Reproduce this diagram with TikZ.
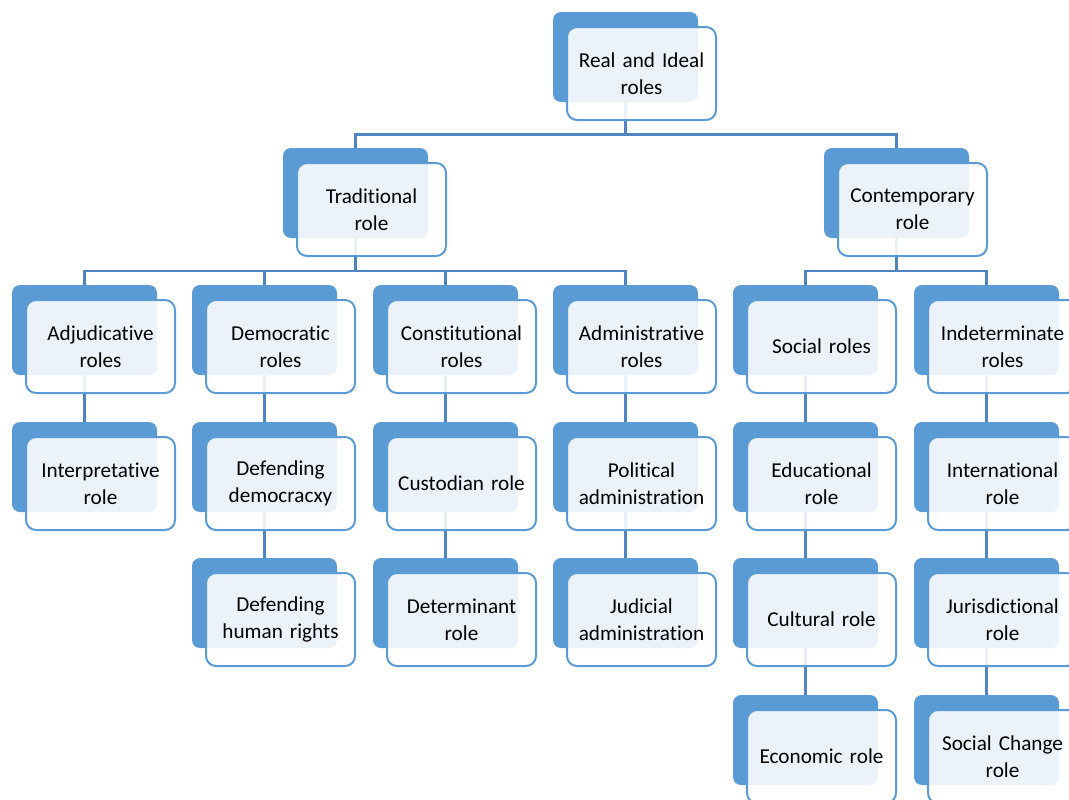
\documentclass[tikz,border=0pt]{standalone}
\usepackage{fontspec}
\setmainfont{Carlito}[Ligatures=NoCommon]
\usepackage{xcolor}
\usepackage{tikz}
\usetikzlibrary{backgrounds, calc}

\definecolor{roleblue}{HTML}{5B9BD5}
\definecolor{linkblue}{HTML}{4E84C0}

\begin{document}
\begin{tikzpicture}[
    x=0.5pt, y=-0.5pt,
    back/.style={rectangle, rounded corners=4pt, fill=roleblue, minimum width=72.5pt, minimum height=45pt, inner sep=0pt},
    front/.style={draw=roleblue, line width=1pt, rectangle, rounded corners=5pt, fill=white, fill opacity=0.88, text opacity=1, minimum width=74.5pt, minimum height=46.5pt, align=center, text width=70pt, inner sep=0pt, font=\fontsize{10.6}{13.5}\selectfont},
    link/.style={draw=linkblue, line width=1.25pt}
]
\useasboundingbox (0,0) rectangle (1069,799);

% top and second level
\node[back] (root-b) at (625.5,57) {};
\node[front] (root) at ([shift={(16,16.5)}]root-b.center) {Real and Ideal\\roles};
\node[back] (trad-b) at (355.5,193) {};
\node[front] (trad) at ([shift={(16,16.5)}]trad-b.center) {Traditional\\role};
\node[back] (cont-b) at (896.5,193) {};
\node[front] (cont) at ([shift={(16,16.5)}]cont-b.center) {Contemporary\\role};

% traditional branch
\node[back] (adj-b) at (84.5,330) {};
\node[front] (adj) at ([shift={(16,16.5)}]adj-b.center) {Adjudicative\\roles};
\node[back] (interp-b) at (84.5,467) {};
\node[front] (interp) at ([shift={(16,16.5)}]interp-b.center) {Interpretative\\role};

\node[back] (demo-b) at (264.5,330) {};
\node[front] (demo) at ([shift={(16,16.5)}]demo-b.center) {Democratic\\roles};
\node[back] (defdem-b) at (264.5,467) {};
\node[front] (defdem) at ([shift={(16,16.5)}]defdem-b.center) {Defending\\democracxy};
\node[back] (defhr-b) at (264.5,603) {};
\node[front] (defhr) at ([shift={(16,16.5)}]defhr-b.center) {Defending\\human rights};

\node[back] (const-b) at (445.5,330) {};
\node[front] (const) at ([shift={(16,16.5)}]const-b.center) {Constitutional\\roles};
\node[back] (cust-b) at (445.5,467) {};
\node[front] (cust) at ([shift={(16,16.5)}]cust-b.center) {Custodian role};
\node[back] (determ-b) at (445.5,603) {};
\node[front] (determ) at ([shift={(16,16.5)}]determ-b.center) {Determinant\\role};

\node[back] (admin-b) at (625.5,330) {};
\node[front] (admin) at ([shift={(16,16.5)}]admin-b.center) {Administrative\\roles};
\node[back] (polit-b) at (625.5,467) {};
\node[front] (polit) at ([shift={(16,16.5)}]polit-b.center) {Political\\administration};
\node[back] (judic-b) at (625.5,603) {};
\node[front] (judic) at ([shift={(16,16.5)}]judic-b.center) {Judicial\\administration};

% contemporary branch
\node[back] (social-b) at (805.5,330) {};
\node[front] (social) at ([shift={(16,16.5)}]social-b.center) {Social roles};
\node[back] (educ-b) at (805.5,467) {};
\node[front] (educ) at ([shift={(16,16.5)}]educ-b.center) {Educational\\role};
\node[back] (cult-b) at (805.5,603) {};
\node[front] (cult) at ([shift={(16,16.5)}]cult-b.center) {Cultural role};
\node[back] (econ-b) at (805.5,740) {};
\node[front] (econ) at ([shift={(16,16.5)}]econ-b.center) {Economic role};

\node[back] (indet-b) at (986.5,330) {};
\node[front] (indet) at ([shift={(16,16.5)}]indet-b.center) {Indeterminate\\roles};
\node[back] (intl-b) at (986.5,467) {};
\node[front] (intl) at ([shift={(16,16.5)}]intl-b.center) {International\\role};
\node[back] (juris-b) at (986.5,603) {};
\node[front] (juris) at ([shift={(16,16.5)}]juris-b.center) {Jurisdictional\\role};
\node[back] (schange-b) at (986.5,740) {};
\node[front] (schange) at ([shift={(16,16.5)}]schange-b.center) {Social Change\\role};

% connectors behind the boxes
\begin{scope}[on background layer]
\coordinate (bus1) at ($(root.south)!0.5!(trad-b.north)$);
\coordinate (bus2) at ($(trad.south)!0.5!(adj-b.north)$);
\draw[link] (root-b.south) -- (root-b.south |- bus1) -| (trad-b.north);
\draw[link] (root-b.south |- bus1) -| (cont-b.north);
\draw[link] (trad-b.south) -- (trad-b.south |- bus2) -| (adj-b.north);
\draw[link] (trad-b.south |- bus2) -| (demo-b.north);
\draw[link] (trad-b.south |- bus2) -| (const-b.north);
\draw[link] (trad-b.south |- bus2) -| (admin-b.north);
\draw[link] (cont-b.south) -- (cont-b.south |- bus2) -| (social-b.north);
\draw[link] (cont-b.south |- bus2) -| (indet-b.north);
\draw[link] (adj-b.south) -- (interp-b.north);
\draw[link] (demo-b.south) -- (defdem-b.north);
\draw[link] (defdem-b.south) -- (defhr-b.north);
\draw[link] (const-b.south) -- (cust-b.north);
\draw[link] (cust-b.south) -- (determ-b.north);
\draw[link] (admin-b.south) -- (polit-b.north);
\draw[link] (polit-b.south) -- (judic-b.north);
\draw[link] (social-b.south) -- (educ-b.north);
\draw[link] (educ-b.south) -- (cult-b.north);
\draw[link] (cult-b.south) -- (econ-b.north);
\draw[link] (indet-b.south) -- (intl-b.north);
\draw[link] (intl-b.south) -- (juris-b.north);
\draw[link] (juris-b.south) -- (schange-b.north);
\end{scope}
\end{tikzpicture}
\end{document}
